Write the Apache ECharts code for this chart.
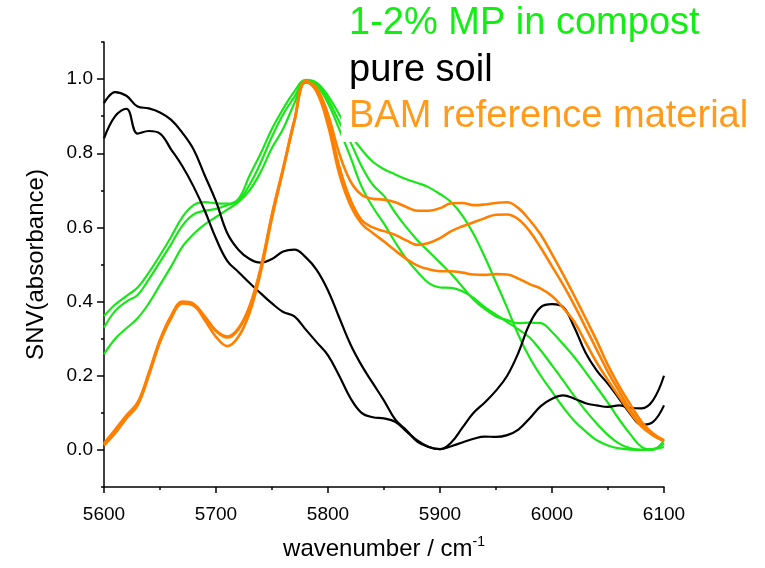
<!DOCTYPE html>
<html>
<head>
<meta charset="utf-8">
<script src="https://cdn.jsdelivr.net/npm/echarts@6/dist/echarts.min.js"></script>
<style>
  html, body { margin: 0; padding: 0; background: #fff; }
  #chart { width: 765px; height: 568px; }
</style>
</head>
<body>
<div id="chart"></div>
<script>
// NIR spectra (SNV-normalised absorbance) sampled every 10 cm^-1
const wavenumber = [5600,5610,5620,5630,5640,5650,5660,5670,5680,5690,5700,5710,5720,5730,5740,5750,5760,5770,5780,5790,5800,5810,5820,5830,5840,5850,5860,5870,5880,5890,5900,5910,5920,5930,5940,5950,5960,5970,5980,5990,6000,6010,6020,6030,6040,6050,6060,6070,6080,6090,6100];

// 1-2% microplastics in compost
const compost1 = [0.361,0.392,0.415,0.438,0.478,0.525,0.575,0.628,0.660,0.668,0.665,0.664,0.677,0.740,0.800,0.866,0.920,0.967,0.998,0.990,0.955,0.905,0.850,0.810,0.777,0.757,0.743,0.730,0.720,0.708,0.690,0.668,0.632,0.582,0.520,0.452,0.383,0.310,0.249,0.200,0.157,0.115,0.078,0.050,0.026,0.012,0.004,0.001,0.000,0.002,0.017];
const compost2 = [0.330,0.375,0.400,0.418,0.460,0.507,0.555,0.605,0.635,0.645,0.650,0.660,0.672,0.715,0.775,0.845,0.905,0.952,0.995,0.985,0.945,0.885,0.830,0.765,0.715,0.685,0.640,0.600,0.565,0.535,0.505,0.475,0.440,0.405,0.380,0.360,0.350,0.342,0.343,0.342,0.318,0.285,0.250,0.210,0.169,0.127,0.082,0.042,0.008,0.000,0.026];
const compost3 = [0.258,0.300,0.328,0.355,0.395,0.445,0.495,0.548,0.582,0.608,0.628,0.648,0.668,0.700,0.750,0.815,0.866,0.935,0.990,0.980,0.935,0.865,0.790,0.710,0.655,0.610,0.560,0.515,0.480,0.450,0.438,0.437,0.428,0.410,0.385,0.365,0.345,0.325,0.303,0.268,0.228,0.187,0.145,0.106,0.071,0.040,0.017,0.004,0.000,0.002,0.008];

// pure soil
const soil1 = [0.935,0.965,0.955,0.926,0.921,0.910,0.890,0.855,0.810,0.740,0.670,0.585,0.540,0.515,0.505,0.515,0.535,0.540,0.520,0.485,0.430,0.357,0.285,0.228,0.180,0.133,0.082,0.053,0.022,0.008,0.002,0.010,0.020,0.030,0.036,0.035,0.040,0.055,0.085,0.118,0.138,0.147,0.138,0.126,0.120,0.116,0.120,0.113,0.112,0.133,0.200];
const soil2 = [0.840,0.900,0.920,0.853,0.860,0.853,0.810,0.765,0.710,0.645,0.570,0.510,0.480,0.450,0.422,0.395,0.372,0.360,0.325,0.290,0.255,0.200,0.140,0.100,0.088,0.085,0.076,0.050,0.025,0.008,0.002,0.020,0.060,0.100,0.128,0.160,0.200,0.262,0.340,0.385,0.393,0.385,0.330,0.262,0.214,0.178,0.138,0.097,0.068,0.075,0.120];

// BAM reference material
const bam1 = [0.015,0.050,0.090,0.125,0.205,0.295,0.360,0.398,0.392,0.358,0.320,0.303,0.325,0.385,0.490,0.635,0.760,0.890,0.995,0.975,0.905,0.800,0.725,0.688,0.677,0.675,0.668,0.655,0.645,0.645,0.652,0.665,0.666,0.660,0.662,0.666,0.668,0.652,0.620,0.580,0.528,0.473,0.415,0.355,0.294,0.228,0.172,0.122,0.076,0.045,0.026];
const bam2 = [0.012,0.045,0.085,0.120,0.200,0.290,0.355,0.395,0.389,0.350,0.305,0.280,0.305,0.370,0.480,0.625,0.755,0.885,0.993,0.970,0.890,0.765,0.675,0.620,0.600,0.590,0.580,0.565,0.553,0.558,0.571,0.590,0.603,0.614,0.625,0.634,0.635,0.622,0.590,0.545,0.495,0.445,0.390,0.330,0.270,0.210,0.158,0.108,0.066,0.040,0.024];
const bam3 = [0.018,0.055,0.093,0.128,0.208,0.297,0.362,0.400,0.394,0.360,0.322,0.306,0.328,0.388,0.492,0.635,0.760,0.888,0.994,0.965,0.875,0.745,0.660,0.610,0.585,0.562,0.538,0.515,0.497,0.487,0.482,0.482,0.478,0.473,0.472,0.474,0.473,0.462,0.447,0.435,0.415,0.383,0.345,0.290,0.235,0.188,0.143,0.100,0.063,0.040,0.024];

// axis ticks
const yMajorTicks = [0.0, 0.2, 0.4, 0.6, 0.8, 1.0];
const yMinorTicks = [-0.1, 0.1, 0.3, 0.5, 0.7, 0.9, 1.1];

const GREEN = '#19e619';
const GREEN_TEXT = '#11ee11';
const ORANGE = '#ff8000';
const ORANGE_TEXT = '#ff9a1a';
const BLACK = '#000000';
const FONT = "'Liberation Sans', Arial, Helvetica, sans-serif";

function toPairs(values) {
  return wavenumber.map((w, i) => [w, values[i]]);
}
function spectrum(values, color, width) {
  return {
    type: 'line',
    data: toPairs(values),
    smooth: 0.4,
    showSymbol: false,
    symbol: 'none',
    silent: true,
    lineStyle: { color: color, width: width },
    yAxisIndex: 0
  };
}

const series = [
  spectrum(compost1, GREEN, 2.2),
  spectrum(compost2, GREEN, 2.2),
  spectrum(compost3, GREEN, 2.2),
  spectrum(soil1, BLACK, 2.2),
  spectrum(soil2, BLACK, 2.2),
  spectrum(bam1, ORANGE, 2.6),
  spectrum(bam2, ORANGE, 2.6),
  spectrum(bam3, ORANGE, 2.6)
];

const axisLineStyle = { color: '#000', width: 1.5 };

const chart = echarts.init(document.getElementById('chart'), null, { renderer: 'canvas' });
chart.setOption({
  animation: false,
  backgroundColor: '#fff',
  grid: { left: 104, right: 101, top: 42, bottom: 78 },
  xAxis: {
    type: 'value',
    min: 5600,
    max: 6100,
    interval: 100,
    axisLine: { onZero: false, lineStyle: axisLineStyle },
    axisTick: { show: true, length: 6, lineStyle: axisLineStyle },
    minorTick: { show: true, splitNumber: 2, length: 3, lineStyle: axisLineStyle },
    splitLine: { show: false },
    minorSplitLine: { show: false },
    axisLabel: { color: '#000', fontFamily: FONT, fontSize: 19, margin: 18, formatter: v => String(v) },
    name: 'wavenumber / cm{sup|-1}',
    nameLocation: 'middle',
    nameGap: 48,
    nameTextStyle: {
      color: '#000', fontFamily: FONT, fontSize: 24, lineHeight: 28,
      rich: { sup: { color: '#000', fontFamily: FONT, fontSize: 14, lineHeight: 14, verticalAlign: 'top' } }
    }
  },
  yAxis: [
    {
      type: 'value',
      position: 'left',
      min: -0.1,
      max: 1.1,
      interval: 0.1,
      axisLine: { show: true, onZero: false, lineStyle: axisLineStyle },
      axisTick: { show: true, length: 7, customValues: yMajorTicks, lineStyle: axisLineStyle },
      axisLabel: {
        customValues: yMajorTicks,
        formatter: v => v.toFixed(1),
        color: '#000', fontFamily: FONT, fontSize: 19, margin: 11
      },
      splitLine: { show: false },
      name: 'SNV(absorbance)',
      nameLocation: 'middle',
      nameGap: 56,
      nameTextStyle: { color: '#000', fontFamily: FONT, fontSize: 24 }
    },
    {
      type: 'value',
      position: 'left',
      min: -0.1,
      max: 1.1,
      interval: 0.1,
      axisLine: { show: false, onZero: false },
      axisTick: { show: true, length: 3, customValues: yMinorTicks, lineStyle: axisLineStyle },
      axisLabel: { show: false },
      splitLine: { show: false }
    }
  ],
  series: series,
  graphic: [
    { type: 'rect', shape: { x: 341, y: 95, width: 424, height: 47 }, style: { fill: '#fff' }, z: 100 },
    { type: 'text', x: 349, y: 5, z: 101,
      style: { text: '1-2% MP in compost', fill: GREEN_TEXT, fontSize: 38, fontFamily: FONT } },
    { type: 'text', x: 349, y: 52, z: 101,
      style: { text: 'pure soil', fill: BLACK, fontSize: 38, fontFamily: FONT } },
    { type: 'text', x: 349, y: 98, z: 101,
      style: { text: 'BAM reference material', fill: ORANGE_TEXT, fontSize: 38, fontFamily: FONT } }
  ]
});
</script>
</body>
</html>
